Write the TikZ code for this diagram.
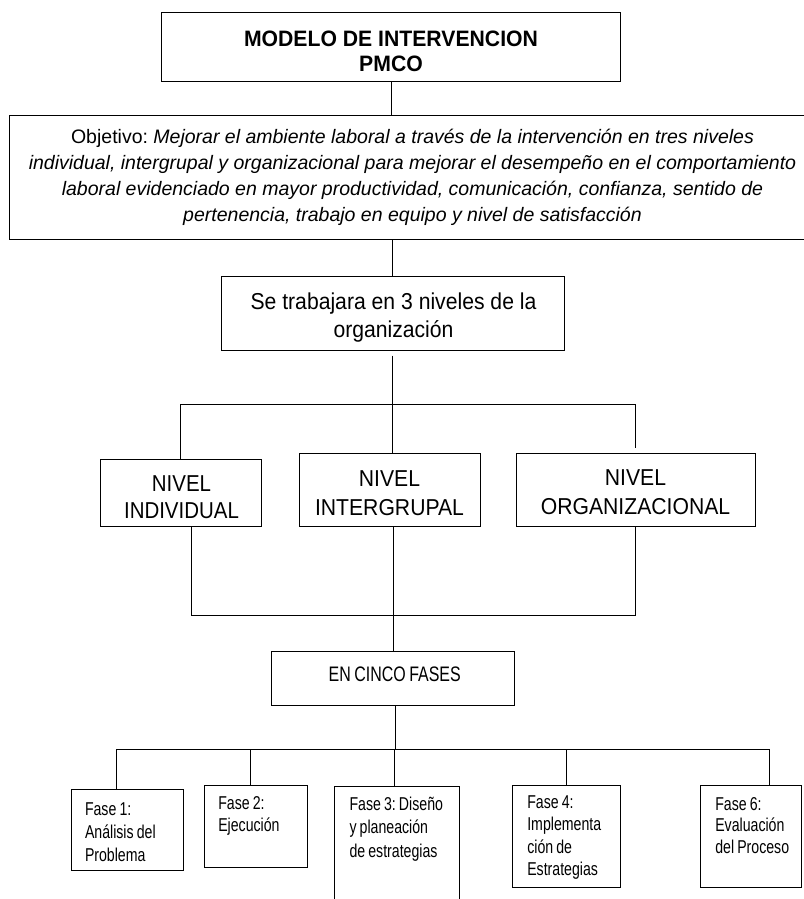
\documentclass[tikz,border=0pt]{standalone}
\usepackage{fontspec}
\setmainfont{Liberation Sans}
\newfontfamily\stdfont[FakeStretch=0.92]{Liberation Sans}
\newfontfamily\sefont[FakeStretch=0.89]{Liberation Sans}
\newfontfamily\ttlfont[FakeStretch=0.95]{Liberation Sans}
\newfontfamily\objfont{Liberation Sans}
\newfontfamily\cndfont[FakeStretch=0.76,WordSpace=0.8]{Liberation Sans}

\begin{document}
\begin{tikzpicture}[x=1pt,y=-1pt,
  box/.style={draw=black, line width=1pt, rectangle, inner sep=0pt, outer sep=0pt},
  txt/.style={inner sep=0pt, outer sep=0pt, anchor=base, align=center,
    execute at begin node={\frenchspacing\spaceskip=\fontdimen2\font\relax}},
  ftxt/.style={inner sep=0pt, outer sep=0pt, anchor=base west, align=left, text width=130pt,
    execute at begin node={\frenchspacing\spaceskip=\fontdimen2\font\relax}},
  link/.style={draw=black, line width=1pt}]
\useasboundingbox (0,0) rectangle (803,899);

% boxes and texts
\node[box, minimum width=459pt, minimum height=68.6pt] (title) at (391.2,47) {};
\node[txt, text width=440pt, font={\ttlfont\bfseries\fontsize{22.3}{25}\selectfont}] (titletxt) at (391,46.7) {MODELO DE INTERVENCION\\PMCO};

\node[box, minimum width=805.7pt, minimum height=124pt] (obj) at (412.2,177) {};
\node[txt, text width=800pt, font={\objfont\fontsize{19.5}{26.1}\selectfont}] (objtxt) at (412.5,143.3) {Objetivo: \textit{Mejorar el ambiente laboral a través de la intervención en tres niveles}\\\textit{individual, intergrupal y organizacional para mejorar el desempeño en el comportamiento}\\\textit{laboral evidenciado en mayor productividad, comunicación, confianza, sentido de}\\\textit{pertenencia, trabajo en equipo y nivel de satisfacción}};

\node[box, minimum width=342.3pt, minimum height=74pt] (se) at (392.85,313.7) {};
\node[txt, text width=330pt, font={\stdfont\fontsize{23}{28}\selectfont}] (setxt) at (393.5,309.3) {Se trabajara en 3 niveles de la\\organización};

\node[box, minimum width=161.7pt, minimum height=66.7pt] (ind) at (180.85,492.65) {};
\node[txt, text width=155pt, font={\sefont\fontsize{23}{26.7}\selectfont}] (indtxt) at (181.5,491.7) {NIVEL\\INDIVIDUAL};

\node[box, minimum width=181.4pt, minimum height=72.7pt] (inter) at (390,489.65) {};
\node[txt, text width=175pt, font={\stdfont\fontsize{23}{28.3}\selectfont}] (intertxt) at (389.5,486.7) {NIVEL\\INTERGRUPAL};

\node[box, minimum width=239pt, minimum height=73.4pt] (org) at (635.5,490) {};
\node[txt, text width=230pt, font={\stdfont\fontsize{23}{28.3}\selectfont}] (orgtxt) at (635.5,485.7) {NIVEL\\ORGANIZACIONAL};

\node[box, minimum width=242.6pt, minimum height=53.6pt] (cinco) at (393,678.5) {};
\node[txt, text width=230pt, font={\cndfont\fontsize{21}{24}\selectfont}] (cincotxt) at (394.7,681) {EN CINCO FASES};

\node[box, minimum width=112.3pt, minimum height=81.4pt] (f1) at (127.15,830) {};
\node[ftxt, font={\cndfont\fontsize{18.6}{23}\selectfont}] (f1txt) at (85,815) {Fase 1:\\Análisis del\\Problema};

\node[box, minimum width=103.4pt, minimum height=82.7pt] (f2) at (256,826.35) {};
\node[ftxt, font={\cndfont\fontsize{18.6}{22.4}\selectfont}] (f2txt) at (218.3,809.3) {Fase 2:\\Ejecución};

\node[box, minimum width=124.7pt, minimum height=134pt] (f3) at (396.65,853) {};
\node[ftxt, font={\cndfont\fontsize{18.6}{23.5}\selectfont}] (f3txt) at (349.5,810) {Fase 3: Diseño\\y planeación\\de estrategias};

\node[box, minimum width=108.4pt, minimum height=102pt] (f4) at (566.5,836) {};
\node[ftxt, font={\cndfont\fontsize{18.6}{22.5}\selectfont}] (f4txt) at (527.3,808) {Fase 4:\\Implementa\\ción de\\Estrategias};

\node[box, minimum width=100.3pt, minimum height=102pt] (f6) at (750.85,836) {};
\node[ftxt, font={\cndfont\fontsize{18.6}{21.5}\selectfont}] (f6txt) at (715.3,810) {Fase 6:\\Evaluación\\del Proceso};

% helper coordinates
\coordinate (bus1) at (391,404);
\coordinate (bus2) at (393,615.7);
\coordinate (bus3) at (395,749);
\coordinate (sebot) at ([yshift=-5pt]se.south);
\coordinate (orgtop) at ([yshift=5pt]org.north);
\coordinate (indbot) at ([xshift=11pt]ind.south);
\coordinate (cincobot) at ([xshift=2pt]cinco.south);
\coordinate (f1top) at ([xshift=-10.5pt]f1.north);
\coordinate (f2top) at ([xshift=-5.3pt]f2.north);
\coordinate (f3top) at ([xshift=-2.6pt]f3.north);
\coordinate (f6top) at ([xshift=19pt]f6.north);

% connectors
\draw[link] (title.south) -- (title.south |- obj.north);
\draw[link] (se.north |- obj.south) -- (se.north);
\draw[link] (sebot) -- (sebot |- inter.north);
\draw[link] (ind.north) -- (ind.north |- bus1) -- (org.north |- bus1) -- (orgtop);
\draw[link] (indbot) -- (indbot |- bus2) -- (org.south |- bus2) -- (org.south);
\draw[link] (cinco.north |- inter.south) -- (cinco.north);
\draw[link] (cincobot) -- (cincobot |- bus3);
\draw[link] (f1top) -- (f1top |- bus3) -- (f6top |- bus3) -- (f6top);
\draw[link] (f2top |- bus3) -- (f2top);
\draw[link] (f3top |- bus3) -- (f3top);
\draw[link] (f4.north |- bus3) -- (f4.north);
\end{tikzpicture}
\end{document}
